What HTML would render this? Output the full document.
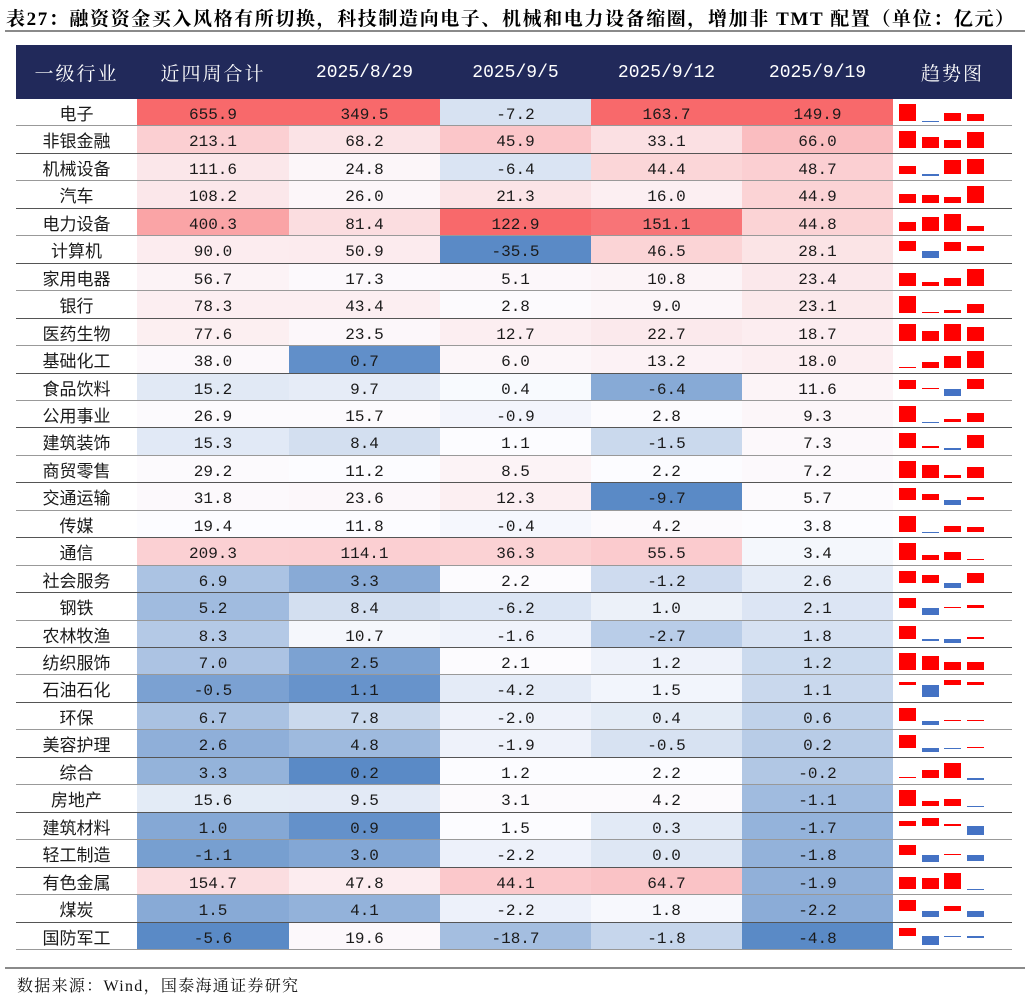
<!DOCTYPE html>
<html><head><meta charset="utf-8">
<style>
body{margin:0;width:1031px;height:998px;background:#fff;position:relative;overflow:hidden;font-family:"Liberation Serif","Noto Serif CJK SC",serif;}
.t{position:absolute;left:6px;top:4px;font-size:19px;font-weight:bold;white-space:nowrap;color:#000;letter-spacing:1.6px}
.tl{position:absolute;left:5px;top:30px;width:1020px;height:2px;background:#8a8a8a}
.hd{position:absolute;left:16px;top:45px;width:996px;height:54px;background:#21295a}
.h{position:absolute;top:45px;height:54px;line-height:56px;color:#fff;font-size:18px;text-align:center;font-family:"Liberation Mono","Noto Sans CJK SC",monospace;letter-spacing:0px}
.c{position:absolute;text-align:center;font-size:16px;color:#1a1a1a;box-sizing:border-box;font-family:"Liberation Mono",monospace}
.ln{position:absolute;left:16px;width:996px;height:1px;background:#3a3a3a}
.b{position:absolute;width:17px}
.bl{position:absolute;left:5px;top:967px;width:1020px;height:2px;background:#8a8a8a}
.f{position:absolute;left:17px;top:973px;font-size:16px;color:#111;letter-spacing:1.3px;font-family:"Liberation Serif","Noto Serif CJK SC",serif}
</style></head><body>
<div class="t">表27：融资资金买入风格有所切换，科技制造向电子、机械和电力设备缩圈，增加非 TMT 配置（单位：亿元）</div>
<div class="tl"></div>
<div class="hd"></div>
<div id="root"></div>
<div class="bl"></div>
<div class="f">数据来源：Wind，国泰海通证券研究</div>
<script>
var D=[["电子",655.9,349.5,-7.2,163.7,149.9],["非银金融",213.1,68.2,45.9,33.1,66.0],["机械设备",111.6,24.8,-6.4,44.4,48.7],["汽车",108.2,26.0,21.3,16.0,44.9],["电力设备",400.3,81.4,122.9,151.1,44.8],["计算机",90.0,50.9,-35.5,46.5,28.1],["家用电器",56.7,17.3,5.1,10.8,23.4],["银行",78.3,43.4,2.8,9.0,23.1],["医药生物",77.6,23.5,12.7,22.7,18.7],["基础化工",38.0,0.7,6.0,13.2,18.0],["食品饮料",15.2,9.7,0.4,-6.4,11.6],["公用事业",26.9,15.7,-0.9,2.8,9.3],["建筑装饰",15.3,8.4,1.1,-1.5,7.3],["商贸零售",29.2,11.2,8.5,2.2,7.2],["交通运输",31.8,23.6,12.3,-9.7,5.7],["传媒",19.4,11.8,-0.4,4.2,3.8],["通信",209.3,114.1,36.3,55.5,3.4],["社会服务",6.9,3.3,2.2,-1.2,2.6],["钢铁",5.2,8.4,-6.2,1.0,2.1],["农林牧渔",8.3,10.7,-1.6,-2.7,1.8],["纺织服饰",7.0,2.5,2.1,1.2,1.2],["石油石化",-0.5,1.1,-4.2,1.5,1.1],["环保",6.7,7.8,-2.0,0.4,0.6],["美容护理",2.6,4.8,-1.9,-0.5,0.2],["综合",3.3,0.2,1.2,2.2,-0.2],["房地产",15.6,9.5,3.1,4.2,-1.1],["建筑材料",1.0,0.9,1.5,0.3,-1.7],["轻工制造",-1.1,3.0,-2.2,0.0,-1.8],["有色金属",154.7,47.8,44.1,64.7,-1.9],["煤炭",1.5,4.1,-2.2,1.8,-2.2],["国防军工",-5.6,19.6,-18.7,-1.8,-4.8]];
var H=["一级行业","近四周合计","2025/8/29","2025/9/5","2025/9/12","2025/9/19","趋势图"];
var X=[16,137,289,440,591,742,893,1012];
var h="";
for(var i=0;i<7;i++)h+='<div class="h" style="left:'+X[i]+'px;width:'+(X[i+1]-X[i])+'px;'+((i==0||i==1||i==6)?'letter-spacing:2px;font-size:19px;font-family:\'Noto Serif CJK SC\',serif':'')+'">'+H[i]+'</div>';
var top0=99,rh=851/31;
function mix(a,b,t){return 'rgb('+[0,1,2].map(function(k){return Math.round(a[k]+(b[k]-a[k])*t)}).join(',')+')'}
var R=[248,105,107],W=[252,252,255],B=[90,138,198];
var st=[];
for(var c=1;c<=5;c++){var v=D.map(function(r){return r[c]}).sort(function(a,b){return a-b});st[c]={mn:v[0],mx:v[v.length-1],md:v[15]};}
function col(c,x){var s=st[c];if(x>=s.md)return mix(W,R,(x-s.md)/(s.mx-s.md));return mix(W,B,(s.md-x)/(s.md-s.mn));}
for(var r=0;r<D.length;r++){
 var y=top0+r*rh,y1=top0+(r+1)*rh,hh=y1-y;
 h+='<div class="c" style="left:16px;width:121px;top:'+y+'px;height:'+hh+'px;line-height:'+(hh+4)+'px;font-size:17px;font-family:\'Liberation Serif\',\'Noto Sans CJK SC\',serif">'+D[r][0]+'</div>';
 for(var c=1;c<=5;c++){
  h+='<div class="c" style="left:'+X[c]+'px;width:'+(X[c+1]-X[c])+'px;top:'+y+'px;height:'+hh+'px;line-height:'+(hh+5)+'px;background:'+col(c,D[r][c])+'">'+D[r][c].toFixed(1)+'</div>';
 }
 var vals=D[r].slice(2,6),mx=Math.max(0,Math.max.apply(null,vals)),mn=Math.min(0,Math.min.apply(null,vals)),sp=mx-mn||1,BH=17;
 var base=y+5+mx/sp*BH,offs=[6,29,51,74];
 for(var k=0;k<4;k++){var v=vals[k],bh=Math.max(1,Math.abs(v)/sp*BH);
  var bt=v>=0?base-bh:base;
  h+='<div class="b" style="left:'+(893+offs[k])+'px;top:'+bt+'px;height:'+bh+'px;background:'+(v>=0?'#ff0000':'#4472c4')+'"></div>';}
 h+='<div class="ln" style="top:'+(y1-1)+'px;'+(r%2?'background:#555':'background:#999')+'"></div>';
}
document.getElementById('root').innerHTML=h;
</script>
</body></html>
